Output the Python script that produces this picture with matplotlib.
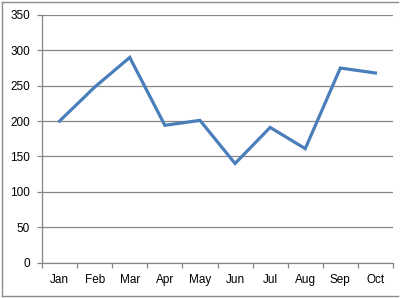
import numpy as np
import matplotlib
matplotlib.use("Agg")
import matplotlib.pyplot as plt
from matplotlib.lines import Line2D

months = ["Jan", "Feb", "Mar", "Apr", "May", "Jun", "Jul", "Aug", "Sep", "Oct"]
values = [200, 248, 290, 194, 201, 140, 191, 161, 275, 268]
y_ticks = [0, 50, 100, 150, 200, 250, 300, 350]

W, H = 407, 298
fig = plt.figure(figsize=(W / 100, H / 100), dpi=100)
plt.rcParams['font.family'] = ['Liberation Sans', 'DejaVu Sans']

left, right, top, bottom = 42, 393, 15, 262.5
ax = fig.add_axes([left / W, 1 - bottom / H, (right - left) / W, (bottom - top) / H])

grid_col = "#868686"
x = np.arange(len(months))
ax.plot(x, values, color="#4a7ebb", lw=2.3, solid_joinstyle="miter", zorder=3)

ax.set_xlim(-0.5, len(months) - 0.5)
ax.set_ylim(0, 350)
ax.set_yticks(y_ticks)
ax.set_yticklabels([str(v) for v in y_ticks])
ax.yaxis.grid(True, color=grid_col, lw=0.9)
ax.set_axisbelow(True)

# category labels centered, tick marks on boundaries
ax.set_xticks(x)
ax.set_xticklabels(months)
ax.tick_params(axis="x", which="major", length=0, pad=8)
ax.set_xticks(np.arange(-0.5, len(months)), minor=True)
ax.tick_params(axis="x", which="minor", length=3.5, color=grid_col, width=0.9, direction="out")
ax.tick_params(axis="y", length=3.5, color=grid_col, width=0.9, pad=5)
ax.tick_params(labelsize=8.5, labelcolor="black")

for s in ["top", "right"]:
    ax.spines[s].set_visible(False)
for s in ["left", "bottom"]:
    ax.spines[s].set_color(grid_col)
    ax.spines[s].set_linewidth(0.9)

# chart area border (right edge cut off in the reference)
bc = "#8c8c8c"
x0, x1, y0, y1 = 1.5 / W, 398 / W, 1 - 1.5 / H, 1 - 295.5 / H
for xs, ys in [([x0, x1], [y0, y0]), ([x0, x1], [y1, y1]), ([x0, x0], [y0, y1])]:
    fig.add_artist(Line2D(xs, ys, color=bc, lw=1.0, transform=fig.transFigure))

fig.savefig("out.png", dpi=100, facecolor="white")
